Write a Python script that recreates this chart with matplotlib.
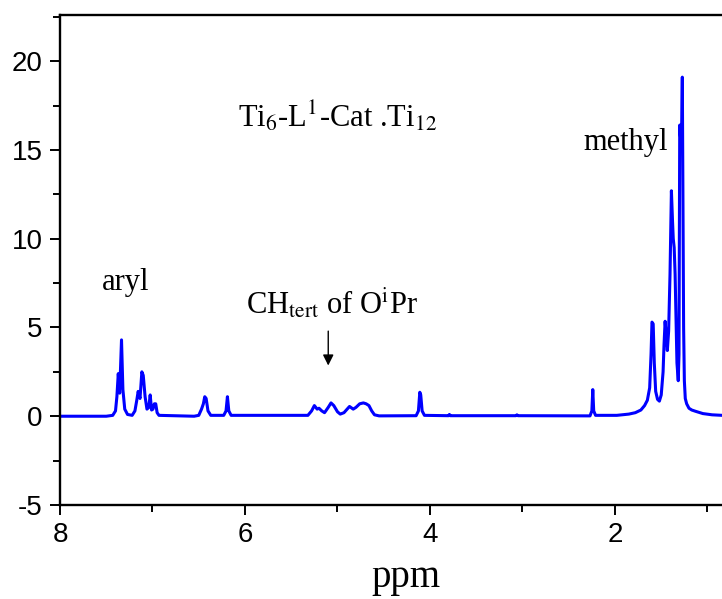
import matplotlib
matplotlib.use("Agg")
import matplotlib.pyplot as plt
from matplotlib.ticker import MultipleLocator

# traced spectrum (ppm, intensity)
ppm = [8.00, 7.50, 7.43, 7.40, 7.385, 7.37, 7.355, 7.335, 7.32, 7.30, 7.27, 7.22,
       7.19, 7.17, 7.155, 7.135, 7.115, 7.10, 7.08, 7.06, 7.04, 7.025, 7.01, 6.995,
       6.98, 6.965, 6.95, 6.93,
       6.55, 6.50, 6.47, 6.45, 6.435, 6.42, 6.40, 6.37,
       6.23, 6.205, 6.19, 6.175, 6.15,
       5.32, 5.28, 5.25, 5.22, 5.20, 5.17, 5.14, 5.10, 5.07, 5.04, 5.00, 4.97,
       4.93, 4.87, 4.83, 4.80, 4.76, 4.72, 4.69, 4.66, 4.63, 4.60, 4.55,
       4.15, 4.125, 4.11, 4.10, 4.085, 4.06,
       3.80, 3.79, 3.78, 3.07, 3.06, 3.05,
       2.27, 2.25, 2.24, 2.23, 2.21,
       1.98, 1.85, 1.78, 1.72, 1.68, 1.65, 1.625, 1.61, 1.60, 1.587, 1.575, 1.56,
       1.54, 1.52, 1.50, 1.48, 1.47, 1.458, 1.445, 1.434, 1.42, 1.405, 1.39,
       1.378, 1.37, 1.36, 1.35, 1.34, 1.33, 1.316, 1.308, 1.30, 1.29, 1.28,
       1.272, 1.265, 1.258, 1.25, 1.24, 1.225, 1.20, 1.17, 1.13, 1.05, 0.95, 0.84]
intensity = [0.0, 0.0, 0.05, 0.3, 1.1, 2.4, 1.3, 4.3, 1.5, 0.4, 0.1, 0.05,
             0.3, 0.9, 1.4, 1.0, 2.5, 2.3, 1.1, 0.4, 0.5, 1.2, 0.35, 0.4,
             0.7, 0.7, 0.2, 0.05,
             0.0, 0.05, 0.4, 0.7, 1.1, 1.0, 0.3, 0.05,
             0.05, 0.3, 1.1, 0.3, 0.05,
             0.05, 0.3, 0.6, 0.4, 0.45, 0.3, 0.2, 0.5, 0.75, 0.6, 0.25, 0.12,
             0.2, 0.55, 0.4, 0.5, 0.7, 0.75, 0.7, 0.6, 0.3, 0.08, 0.02,
             0.03, 0.3, 1.35, 1.2, 0.3, 0.05,
             0.03, 0.1, 0.03, 0.03, 0.08, 0.03,
             0.02, 0.3, 1.5, 0.3, 0.05,
             0.05, 0.12, 0.2, 0.35, 0.6, 0.9, 1.6, 3.5, 5.3, 5.2, 3.0, 1.4,
             0.95, 0.85, 1.2, 2.5, 4.0, 5.35, 4.5, 3.7, 4.8, 8.0, 12.7,
             11.0, 10.0, 9.5, 8.0, 5.5, 3.0, 2.0, 3.5, 16.4, 15.6, 16.0,
             19.1, 12.0, 5.0, 2.0, 1.0, 0.7, 0.45, 0.35, 0.28, 0.15, 0.08, 0.05]

x_ticks = [8, 6, 4, 2]
y_ticks = [-5, 0, 5, 10, 15, 20]

plt.rcParams['mathtext.fontset'] = 'stix'
plt.rcParams['axes.unicode_minus'] = False

fig = plt.figure(figsize=(7.22, 5.99), dpi=100)
ax = fig.add_axes([60 / 722, 94 / 599, 1 - 60 / 722, (505 - 15) / 599])

ax.plot(ppm, intensity, color='#0000ff', lw=2.2)

ax.set_xlim(8, 0.843)
ax.set_ylim(-5, 22.6)
ax.set_xticks(x_ticks)
ax.set_yticks(y_ticks)
ax.xaxis.set_minor_locator(MultipleLocator(1))
ax.yaxis.set_minor_locator(MultipleLocator(2.5))

ax.spines['right'].set_visible(False)
for s in ['left', 'bottom', 'top']:
    ax.spines[s].set_linewidth(1.7)

ax.tick_params(axis='both', which='major', direction='out', length=7.5, width=1.4,
               labelsize=20, top=False, right=False)
ax.tick_params(axis='both', which='minor', direction='out', length=5, width=1.4,
               top=False, right=False)
ax.tick_params(axis='y', which='major', pad=5)
ax.tick_params(axis='x', which='major', pad=5)
for lab in ax.get_xticklabels() + ax.get_yticklabels():
    lab.set_family('Liberation Sans')

serif = 'Liberation Serif'
ax.text(5.0, 16.33, r'Ti$_{\mathrm{6}}$-L$^{\mathrm{1}}$-Cat .Ti$_{\mathrm{12}}$',
        family=serif, fontsize=22, ha='center', va='baseline')
ax.text(7.29, 7.12, 'aryl', family=serif, fontsize=22, ha='center', va='baseline')
ax.text(1.886, 14.98, 'methyl', family=serif, fontsize=22, ha='center', va='baseline')
ax.text(5.06, 5.8, r'CH$_{\mathrm{tert}}$ of O$^{\mathrm{i}}$Pr', family=serif,
        fontsize=22, ha='center', va='baseline')
ax.annotate('', xy=(5.10, 2.7), xytext=(5.10, 4.95),
            arrowprops=dict(arrowstyle='-|>', color='black', lw=1.0,
                            mutation_scale=16))

fig.text(406 / 722, 1 - 587 / 599, 'ppm', family=serif, fontsize=28,
         ha='center', va='baseline')

fig.savefig('out.png', dpi=100)
